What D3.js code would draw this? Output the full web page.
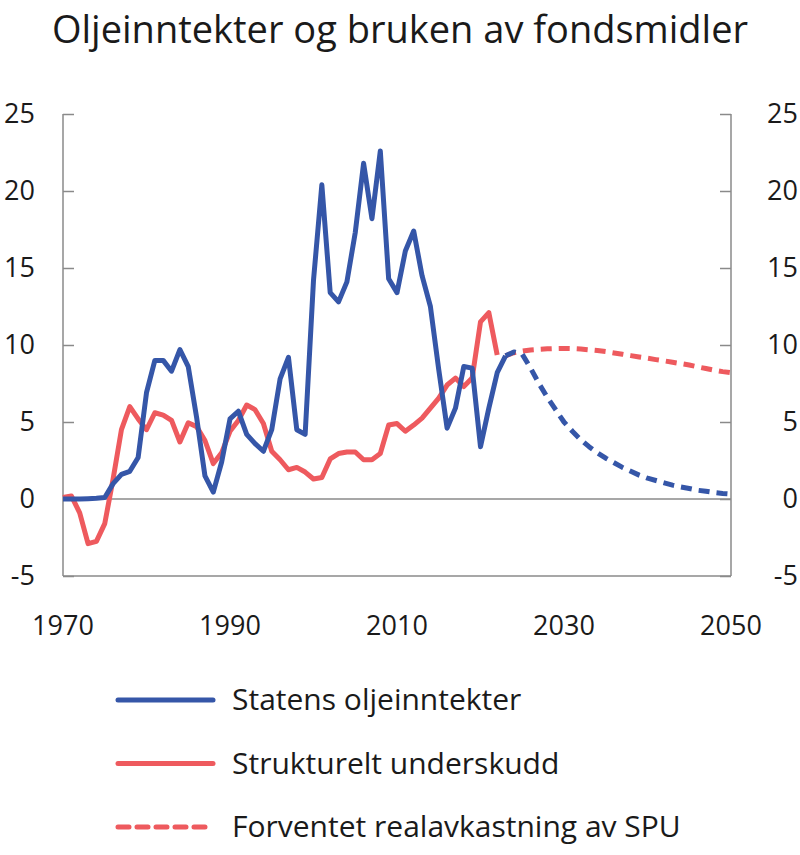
<!DOCTYPE html>
<html>
<head>
<meta charset="utf-8">
<script src="https://cdn.jsdelivr.net/npm/d3@7"></script>
<style>
  body { margin: 0; background: #fff; }
  text { font-family: "Open Sans", sans-serif; fill: #1a1a1a; }
</style>
</head>
<body>
<div id="container"></div>
<script>
/* DATA */
const title = "Oljeinntekter og bruken av fondsmidler"

const yTicks = [-5, 0, 5, 10, 15, 20, 25]
const xTicks = [1970, 1990, 2010, 2030, 2050]

const seriesNames = ["Statens oljeinntekter", "Strukturelt underskudd", "Forventet realavkastning av SPU"]

// Statens oljeinntekter, 1970-2023 (historical)
const oilYears = d3.range(1970, 2024)
const oilValues = [
  0, 0, 0, 0.02, 0.05, 0.1, 1.0, 1.6, 1.8, 2.7,
  6.9, 9.0, 9.0, 8.3, 9.7, 8.6, 5.3, 1.5, 0.45, 2.4,
  5.2, 5.7, 4.2, 3.6, 3.1, 4.5, 7.8, 9.2, 4.5, 4.2,
  14.2, 20.4, 13.4, 12.8, 14.1, 17.3, 21.8, 18.2, 22.6, 14.3,
  13.4, 16.1, 17.4, 14.5, 12.5, 8.4, 4.6, 5.9, 8.6, 8.5,
  3.4, 5.9, 8.2, 9.3
]

// Statens oljeinntekter, projection 2023-2050
const oilProjYears = d3.range(2023, 2051)
const oilProjValues = [
  9.3, 9.55, 9.4, 8.5, 7.5, 6.6, 5.8, 5.0, 4.4, 3.85,
  3.4, 3.0, 2.65, 2.35, 2.05, 1.8, 1.55, 1.35, 1.2, 1.05,
  0.9, 0.78, 0.68, 0.57, 0.5, 0.42, 0.36, 0.32
]

// Strukturelt underskudd, 1970-2022
const deficitYears = d3.range(1970, 2023)
const deficitValues = [
  0.1, 0.2, -0.9, -2.9, -2.75, -1.6, 1.3, 4.5, 6.0, 5.2,
  4.5, 5.6, 5.45, 5.1, 3.7, 4.95, 4.7, 3.8, 2.3, 3.0,
  4.4, 5.1, 6.1, 5.8, 4.9, 3.1, 2.55, 1.9, 2.05, 1.75,
  1.3, 1.4, 2.6, 2.95, 3.05, 3.05, 2.55, 2.55, 2.95, 4.8,
  4.9, 4.4, 4.8, 5.25, 5.9, 6.55, 7.4, 7.85, 7.3, 7.85,
  11.5, 12.1, 9.35
]

// Forventet realavkastning av SPU, 2023-2050
const returnYears = d3.range(2023, 2051)
const returnValues = [
  9.3, 9.5, 9.6, 9.68, 9.72, 9.75, 9.77, 9.78, 9.77, 9.74,
  9.69, 9.64, 9.57, 9.48, 9.4, 9.31, 9.22, 9.14, 9.05, 8.97,
  8.88, 8.79, 8.7, 8.58, 8.47, 8.36, 8.27, 8.2
]

/* CONSTANTS */
const width = 800,
  height = 855,
  margin = {top: 114, bottom: 279, left: 63, right: 69}

const blue = "#3556a8",
  red = "#ee5a5e",
  axisColor = "#8a8a8a"

const svg = d3.select("#container")
  .append("svg")
  .attr("width", width)
  .attr("height", height)

// SCALES
const xScale = d3.scaleLinear()
  .domain([1970, 2050])
  .range([margin.left, width - margin.right])

const yScale = d3.scaleLinear()
  .domain([-5, 25])
  .range([height - margin.bottom, margin.top])

// TITLE
svg.append("text")
  .attr("x", width / 2)
  .attr("y", 43)
  .attr("text-anchor", "middle")
  .style("font-size", "38px")
  .text(title)

// AXES
const yLeft = d3.axisRight(yScale).tickValues(yTicks).tickSize(11).tickFormat("")
const yRight = d3.axisLeft(yScale).tickValues(yTicks).tickSize(11).tickFormat("")

svg.append("g")
  .attr("transform", `translate(${margin.left}, 0)`)
  .call(yLeft)
  .call(g => g.selectAll("line, path").attr("stroke", axisColor).attr("stroke-width", 1.5))
  .call(g => g.select(".domain").attr("d", `M0,${yScale(25)}V${yScale(-5)}`))

svg.append("g")
  .attr("transform", `translate(${width - margin.right}, 0)`)
  .call(yRight)
  .call(g => g.selectAll("line, path").attr("stroke", axisColor).attr("stroke-width", 1.5))
  .call(g => g.select(".domain").attr("d", `M0,${yScale(25)}V${yScale(-5)}`))

// bottom line and zero line
svg.append("line")
  .attr("x1", xScale(1970)).attr("x2", xScale(2050))
  .attr("y1", yScale(-5)).attr("y2", yScale(-5))
  .attr("stroke", axisColor).attr("stroke-width", 1.5)

svg.append("line")
  .attr("x1", xScale(1970)).attr("x2", xScale(2050))
  .attr("y1", yScale(0)).attr("y2", yScale(0))
  .attr("stroke", axisColor).attr("stroke-width", 1.5)

// tick labels
svg.selectAll(".yLabelLeft")
  .data(yTicks)
  .join("text")
  .attr("class", "yLabelLeft")
  .attr("x", 35)
  .attr("y", d => yScale(d) + 9)
  .attr("text-anchor", "end")
  .style("font-size", "27px")
  .text(d => d)

svg.selectAll(".yLabelRight")
  .data(yTicks)
  .join("text")
  .attr("class", "yLabelRight")
  .attr("x", 798)
  .attr("y", d => yScale(d) + 9)
  .attr("text-anchor", "end")
  .style("font-size", "27px")
  .text(d => d)

svg.selectAll(".xLabel")
  .data(xTicks)
  .join("text")
  .attr("class", "xLabel")
  .attr("x", d => xScale(d))
  .attr("y", 635)
  .attr("text-anchor", "middle")
  .style("font-size", "27px")
  .text(d => d)

// LINES
const lineGen = d3.line()
  .x(d => xScale(d[0]))
  .y(d => yScale(d[1]))

const lines = [
  {data: d3.zip(returnYears, returnValues), color: red, dash: "11,7"},
  {data: d3.zip(deficitYears, deficitValues), color: red, dash: null},
  {data: d3.zip(oilProjYears, oilProjValues), color: blue, dash: "11,7"},
  {data: d3.zip(oilYears, oilValues), color: blue, dash: null}
]

svg.selectAll(".line")
  .data(lines)
  .join("path")
  .attr("class", "line")
  .attr("fill", "none")
  .attr("stroke", d => d.color)
  .attr("stroke-width", 5)
  .attr("stroke-linejoin", "round")
  .attr("stroke-dasharray", d => d.dash)
  .attr("d", d => lineGen(d.data))

// LEGEND
const legendItems = [
  {name: seriesNames[0], color: blue, dash: null},
  {name: seriesNames[1], color: red, dash: null},
  {name: seriesNames[2], color: red, dash: "11,8"}
]

const legend = svg.selectAll(".legend")
  .data(legendItems)
  .join("g")
  .attr("class", "legend")
  .attr("transform", (d, i) => `translate(0, ${700 + i * 63.5})`)

legend.append("line")
  .attr("x1", 118).attr("x2", 213)
  .attr("stroke", d => d.color)
  .attr("stroke-width", 5)
  .attr("stroke-linecap", "round")
  .attr("stroke-dasharray", d => d.dash)

legend.append("text")
  .attr("x", 232)
  .attr("y", 10)
  .style("font-size", "30px")
  .text(d => d.name)
</script>
</body>
</html>
